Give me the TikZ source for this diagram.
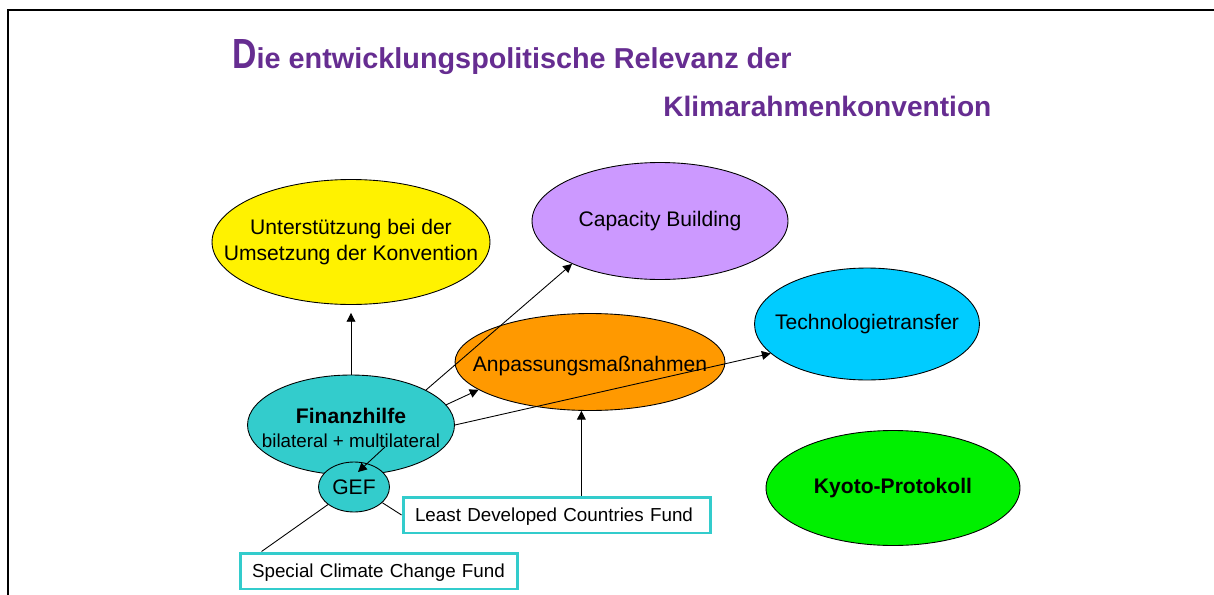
\documentclass[tikz,border=0pt]{standalone}
\usepackage{fontspec}
\setmainfont{Liberation Sans}
\usetikzlibrary{shapes.geometric,arrows.meta}

\definecolor{titel}{RGB}{102,45,145}
\definecolor{tuerkis}{RGB}{51,204,204}
\definecolor{orange}{RGB}{255,153,0}
\definecolor{lila}{RGB}{204,153,255}
\definecolor{himmel}{RGB}{0,204,255}
\definecolor{gruen}{RGB}{0,240,0}

\begin{document}
\begin{tikzpicture}[x=0.02cm, y=-0.02cm,
    blob/.style n args={2}{ellipse, draw, line width=0.5pt, inner sep=0pt,
        label={[align=center, yshift=#2, font=\fontsize{12}{13.5}\selectfont]center:#1}},
    fonds/.style={draw=tuerkis, line width=1.7pt, fill=white, inner xsep=0.24cm, inner ysep=0pt, minimum height=0.72cm, text height=7.6pt, text depth=0pt, align=left, font=\fontsize{10.7}{12}\selectfont},
    pfeil/.style={-{Triangle[length=5pt,width=5pt]}, line width=0.5pt},
    kopf/.style={anchor=base west, inner sep=0pt, text=titel, font=\bfseries\fontsize{16}{19}\selectfont}]
    \useasboundingbox (0,0) rectangle (1214,595);
    \draw[line width=1.2pt] (1214,10) -- (8,10) -- (8,595);

    % Titel
    \node[kopf, font=\bfseries\fontsize{16.4}{19}\selectfont] (titel1) at (232,68) {\scalebox{0.8}[1]{\fontsize{24}{24}\selectfont D}ie entwicklungspolitische Relevanz der};
    \node[kopf] (titel2) at (663,116) {Klimarahmenkonvention};

    % Ellipsen
    \node[blob={Unterstützung bei der\\[1.2pt]Umsetzung der Konvention}{0pt}, fill=yellow, minimum width=5.56cm, minimum height=2.5cm] (unt) at (351,242) {};
    \node[blob={Capacity Building}{0pt}, fill=lila, minimum width=5.12cm, minimum height=2.34cm] (cap) at (660,221) {};
    \node[blob={Technologietransfer}{0pt}, fill=himmel, minimum width=4.5cm, minimum height=2.24cm] (tech) at (867,324) {};
    \node[blob={Anpassungsmaßnahmen}{-0.08cm}, fill=orange, minimum width=5.4cm, minimum height=1.94cm] (anp) at (590,362) {};
    \node[blob={\textbf{Finanzhilfe}\\{\fontsize{10.7}{12}\selectfont bilateral + multilateral}}{-0.06cm}, fill=tuerkis, minimum width=4.14cm, minimum height=2.0cm] (fin) at (351,425) {};
    \node[blob={GEF}{0pt}, fill=tuerkis, minimum width=1.42cm, minimum height=1.0cm] (gef) at (354,487) {};
    \node[blob={\textbf{Kyoto-Protokoll}}{0pt}, fill=gruen, minimum width=5.08cm, minimum height=2.3cm] (kyoto) at (893,488) {};

    % Fonds
    \node[fonds, text width=5.68cm] (ldcf) at (557,515) {Least Developed Countries Fund};
    \node[fonds, text width=5.08cm] (sccf) at (379,571) {Special Climate Change Fund};

    % Verbindungen
    \draw[pfeil, shorten >=0.16cm] (fin.north) -- (fin.north |- unt.south);
    \draw[pfeil] (fin.25) -- (cap.206);
    \draw[pfeil] (fin.12) -- (anp.194);
    \draw[pfeil] (fin.east) -- (tech.197);
    \draw[pfeil] ([shift={(34,22)}]fin.center) -- ([shift={(4,-15)}]gef.center);
    \draw[pfeil] (ldcf.north -| anp.260) -- (anp.260);
    \draw[line width=0.5pt] (gef.-29) -- (ldcf.west);
    \draw[line width=0.5pt] (gef.214) -- ([xshift=0.46cm]sccf.north west);
\end{tikzpicture}
\end{document}
